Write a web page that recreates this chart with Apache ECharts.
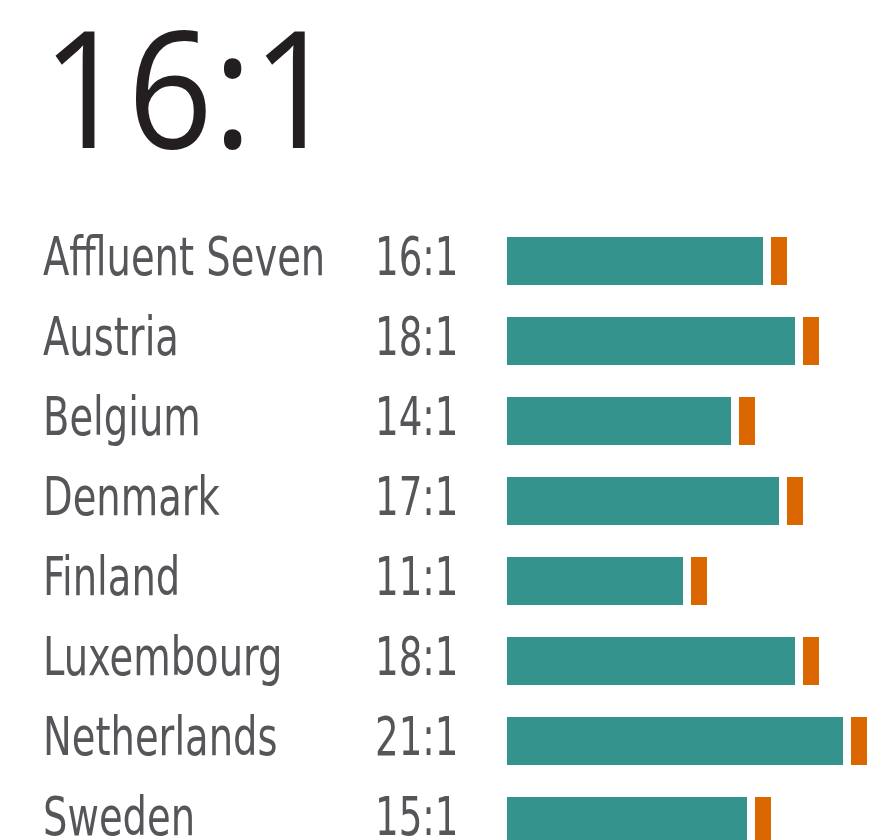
<!DOCTYPE html>
<html>
<head>
<meta charset="utf-8">
<script src="https://cdn.jsdelivr.net/npm/echarts@6/dist/echarts.min.js"></script>
<style>
  html, body { margin: 0; padding: 0; background: #ffffff; }
  #chart { width: 886px; height: 840px; }
</style>
</head>
<body>
<div id="chart"></div>
<script>
const headline = "16:1";
const countries = ["Affluent Seven", "Austria", "Belgium", "Denmark", "Finland", "Luxembourg", "Netherlands", "Sweden"];
const ratioLabels = ["16:1", "18:1", "14:1", "17:1", "11:1", "18:1", "21:1", "15:1"];
const topShare = [16, 18, 14, 17, 11, 18, 21, 15];
const bottomShare = [1, 1, 1, 1, 1, 1, 1, 1];

const GAP = 0.5;
const labelFont = '53px "DejaVu Sans Condensed", "Liberation Sans Narrow", sans-serif';
const labelColor = '#56565a';

const chart = echarts.init(document.getElementById('chart'), null, { renderer: 'canvas' });

const option = {
  backgroundColor: '#ffffff',
  animation: false,
  graphic: [{
    type: 'text',
    x: 42,
    y: 20,
    scaleX: 0.917,
    style: {
      text: headline,
      font: '163px "Open Sans", sans-serif',
      fill: '#231f20',
      textAlign: 'left',
      textVerticalAlign: 'top'
    }
  }],
  grid: { left: 507, right: 11, top: 221, height: 640, containLabel: false, outerBoundsMode: 'none' },
  xAxis: { type: 'value', min: 0, max: 23, show: false },
  yAxis: {
    type: 'category',
    inverse: true,
    data: countries,
    axisLine: { show: false },
    axisTick: { show: false },
    splitLine: { show: false },
    axisLabel: { show: false }
  },
  series: [
    {
      type: 'bar', stack: 'a', data: topShare, barWidth: 48,
      itemStyle: { color: '#35938d' }, silent: true
    },
    {
      type: 'bar', stack: 'a', data: countries.map(() => GAP), barWidth: 48,
      itemStyle: { color: 'rgba(0,0,0,0)' }, silent: true
    },
    {
      type: 'bar', stack: 'a', data: bottomShare, barWidth: 48,
      itemStyle: { color: '#da6700' }, silent: true
    },
    {
      type: 'custom',
      clip: false,
      silent: true,
      data: countries.map(function (n) { return [0, n]; }),
      encode: { x: 0, y: 1 },
      renderItem: function (params, api) {
        const idx = params.dataIndex;
        const pt = api.coord([0, api.value(1)]);
        return {
          type: 'group',
          children: [
            {
              type: 'text', x: 43, y: pt[1], scaleX: 0.807,
              style: { text: countries[idx], font: labelFont, fill: labelColor,
                       textAlign: 'left', textVerticalAlign: 'middle' }
            },
            {
              type: 'text', x: 375, y: pt[1], scaleX: 0.78,
              style: { text: ratioLabels[idx], font: labelFont, fill: labelColor,
                       textAlign: 'left', textVerticalAlign: 'middle' }
            }
          ]
        };
      }
    }
  ]
};
chart.setOption(option);
</script>
</body>
</html>
